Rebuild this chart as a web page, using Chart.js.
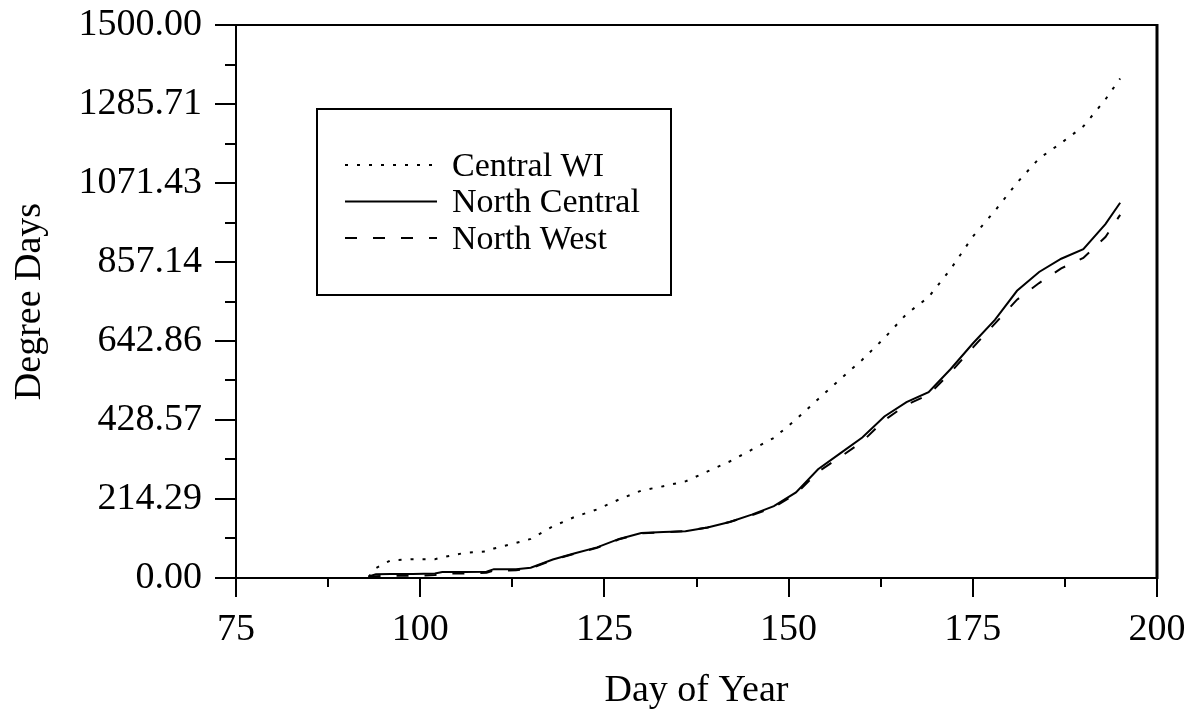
<!DOCTYPE html>
<html>
<head>
<meta charset="utf-8">
<script src="https://cdn.jsdelivr.net/npm/chart.js@4.4.1/dist/chart.umd.min.js"></script>
<style>
  html, body { margin: 0; padding: 0; background: #fff; }
  #wrap { width: 1191px; height: 715px; }
</style>
</head>
<body>
<div id="wrap"><canvas id="chart" width="1191" height="715"></canvas></div>
<script>
// --- DATA ---
const days = [93, 94, 96, 99, 102, 103, 106, 109, 110, 113, 115, 118, 121, 124, 127, 130, 133, 136, 139, 142,
  145, 148, 151, 154, 157, 160, 163, 166, 169, 172, 175, 178, 181, 184, 187, 190, 193, 195];
const centralWI = [3, 27, 48, 51, 51, 56, 68, 72, 80, 95, 106, 140, 166, 186, 213, 237, 249, 262, 289, 316,
  348, 380, 430, 485, 539, 592, 651, 716, 762, 838, 926, 996, 1072, 1138, 1180, 1225, 1298, 1355];
const northCentral = [4, 10, 11, 11, 12, 16, 16, 17, 24, 24, 28, 50, 67, 83, 106, 122, 125, 127, 137, 152,
  172, 195, 232, 295, 338, 381, 438, 477, 504, 567, 636, 700, 779, 830, 866, 892, 960, 1018];
const northWest = [2, 5, 6, 6, 8, 12, 12, 14, 20, 21, 26, 49, 66, 82, 105, 121, 124, 127, 137, 152,
  170, 192, 228, 288, 328, 370, 428, 470, 497, 558, 625, 690, 755, 800, 840, 868, 925, 985];
const seriesNames = ['Central WI', 'North Central', 'North West'];
const xTicks = [75, 100, 125, 150, 175, 200];
const yTicks = [0, 214.29, 428.57, 642.86, 857.14, 1071.43, 1285.71, 1500];

const FONT = "'Liberation Serif', 'Times New Roman', serif";

const toPoints = (vals) => vals.map((v, i) => ({ x: days[i], y: v }));

// --- FRAME, TICK MARKS, LEGEND ---
const framePlugin = {
  id: 'frame',
  afterDraw(chart) {
    const { ctx, chartArea: a, scales } = chart;
    const xs = scales.x, ys = scales.y;
    ctx.save();
    ctx.strokeStyle = '#000';
    ctx.lineWidth = 2;
    ctx.beginPath();
    ctx.moveTo(a.left, a.top); ctx.lineTo(a.left, a.bottom);
    ctx.moveTo(a.left, a.bottom); ctx.lineTo(a.right, a.bottom);
    ctx.moveTo(a.left, a.top); ctx.lineTo(a.right, a.top);
    ctx.stroke();
    ctx.lineWidth = 3;
    ctx.beginPath();
    ctx.moveTo(a.right, a.top - 1); ctx.lineTo(a.right, a.bottom + 1);
    ctx.stroke();

    // y ticks, major + halfway minor
    ctx.lineWidth = 2;
    ctx.beginPath();
    yTicks.forEach((v, i) => {
      const py = Math.round(ys.getPixelForValue(v));
      ctx.moveTo(a.left - 21, py); ctx.lineTo(a.left, py);
      if (i < yTicks.length - 1) {
        const pm = Math.round(ys.getPixelForValue((v + yTicks[i + 1]) / 2));
        ctx.moveTo(a.left - 11, pm); ctx.lineTo(a.left, pm);
      }
    });
    // x ticks
    xTicks.forEach((v, i) => {
      const px = Math.round(xs.getPixelForValue(v));
      ctx.moveTo(px, a.bottom); ctx.lineTo(px, a.bottom + 19);
      if (i < xTicks.length - 1) {
        const pm = Math.round(xs.getPixelForValue((v + xTicks[i + 1]) / 2));
        ctx.moveTo(pm, a.bottom); ctx.lineTo(pm, a.bottom + 9);
      }
    });
    ctx.stroke();

    // legend box
    ctx.lineWidth = 2;
    ctx.strokeRect(317, 109, 354, 186);
    ctx.font = '34px ' + FONT;
    ctx.textBaseline = 'middle';
    ctx.fillStyle = '#000';
    chart.data.datasets.forEach((ds, i) => {
      const y = 165 + i * 36.5;
      ctx.save();
      ctx.lineWidth = ds.borderWidth;
      ctx.setLineDash(ds.borderDash || []);
      ctx.beginPath();
      ctx.moveTo(345, y); ctx.lineTo(437, y);
      ctx.stroke();
      ctx.restore();
      ctx.fillText(ds.label, 452, y + 2);
    });
    ctx.restore();
  }
};

new Chart(document.getElementById('chart'), {
  type: 'line',
  data: {
    datasets: [
      { label: seriesNames[0], data: toPoints(centralWI), borderColor: '#000', borderWidth: 2, borderDash: [3, 9] },
      { label: seriesNames[1], data: toPoints(northCentral), borderColor: '#000', borderWidth: 2 },
      { label: seriesNames[2], data: toPoints(northWest), borderColor: '#000', borderWidth: 2, borderDash: [12, 16] }
    ]
  },
  options: {
    responsive: false,
    animation: false,
    devicePixelRatio: 1,
    layout: { padding: { top: 25, right: 34, left: 0, bottom: 0 } },
    elements: { point: { radius: 0 }, line: { tension: 0, fill: false } },
    plugins: { legend: { display: false }, tooltip: { enabled: false } },
    scales: {
      x: {
        type: 'linear', min: 75, max: 200,
        grid: { display: false }, border: { display: false },
        afterBuildTicks: (s) => { s.ticks = xTicks.map(v => ({ value: v })); },
        afterFit: (s) => { s.height = 137; s.paddingLeft = 0; s.paddingRight = 0; },
        ticks: { color: '#000', font: { family: FONT, size: 38 }, padding: 21, maxRotation: 0,
          callback: (v) => String(v) },
        title: { display: true, text: 'Day of Year', color: '#000',
          font: { family: FONT, size: 38 }, padding: { bottom: 1 } }
      },
      y: {
        type: 'linear', min: 0, max: 1500,
        grid: { display: false }, border: { display: false },
        afterBuildTicks: (s) => { s.ticks = yTicks.map(v => ({ value: v })); },
        afterFit: (s) => { s.width = 236; s.paddingTop = 0; s.paddingBottom = 0; },
        ticks: { color: '#000', font: { family: FONT, size: 38 }, padding: 26,
          callback: (v) => Number(v).toFixed(2) },
        title: { display: true, text: 'Degree Days', color: '#000',
          font: { family: FONT, size: 38 }, padding: { top: 7 } }
      }
    }
  },
  plugins: [framePlugin]
});
</script>
</body>
</html>
